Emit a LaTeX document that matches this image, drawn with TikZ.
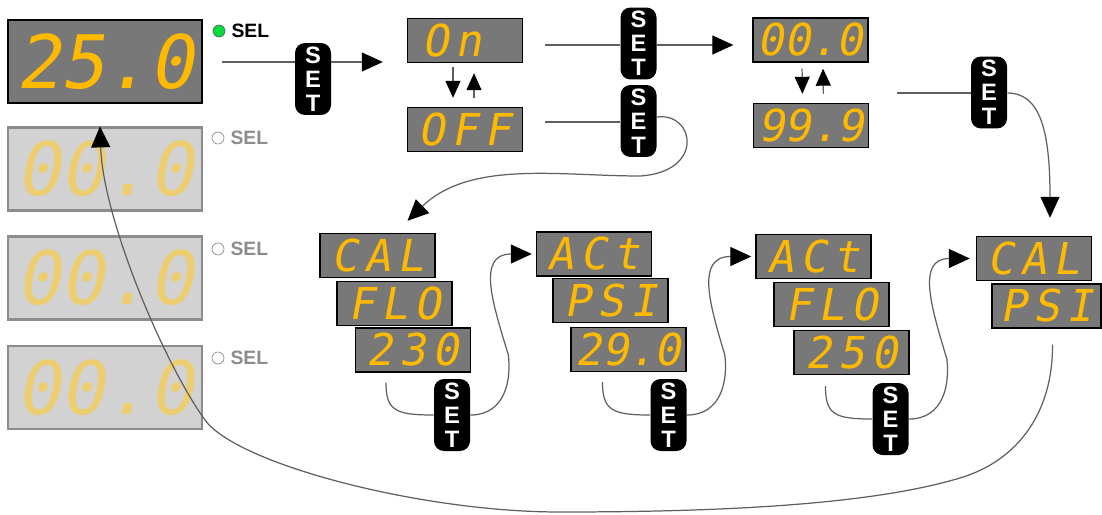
\documentclass[tikz,border=0pt]{standalone}
\usepackage{fontspec}
\usepackage{tikz}
\usetikzlibrary{arrows.meta}
\setsansfont{Liberation Sans}
\newfontfamily\segfont[FakeSlant=0.18,LetterSpace=15]{DejaVu Sans Mono}
\newfontfamily\numfont[FakeSlant=0.18]{DejaVu Sans Mono}
\definecolor{dispgray}{RGB}{120,120,120}
\definecolor{segorange}{RGB}{255,186,0}
\definecolor{offgray}{RGB}{210,210,210}
\definecolor{offedge}{RGB}{140,140,140}
\definecolor{offseg}{RGB}{236,206,112}
\definecolor{selgreen}{RGB}{0,220,60}
\definecolor{wiregray}{RGB}{95,95,95}

\begin{document}
\begin{tikzpicture}[x=0.02cm,y=-0.02cm,
  disp/.style={draw=black,line width=0.8pt,fill=dispgray,minimum width=2.3cm,minimum height=0.88cm,inner sep=0pt,text=segorange,font=\segfont\fontsize{25}{25}\selectfont},
  dispnum/.style={disp,font=\numfont\fontsize{25}{25}\selectfont},
  bigdisp/.style={draw=black,line width=1.6pt,fill=dispgray,minimum width=3.88cm,minimum height=1.66cm,inner sep=0pt,text=segorange,font=\numfont\fontsize{42}{42}\selectfont},
  offdisp/.style={bigdisp,draw=offedge,line width=1.2pt,fill=offgray,text=offseg},
  setbtn/.style={fill=black,rounded corners=0.2cm,minimum width=0.72cm,minimum height=1.44cm,inner sep=0pt,text=white,align=center,font=\sffamily\bfseries\fontsize{13.5}{13.6}\selectfont},
  seldot/.style={circle,draw=#1,inner sep=0pt,minimum size=0.24cm},
  sellbl/.style={font=\sffamily\bfseries\fontsize{11}{11}\selectfont},
  wire/.style={draw=wiregray,line width=0.7pt},
  arr/.style={-{Triangle[length=0.42cm,width=0.38cm,color=black]}},
  flip/.style={-{Triangle[length=0.34cm,width=0.3cm,color=black]}}]
\useasboundingbox (0,0) rectangle (1102,514);

\node[bigdisp] (d25) at (105,61.5) {25.0};
\node[offdisp] (g1) at (105,169) {00.0};
\node[offdisp] (g2) at (105,278) {00.0};
\node[offdisp] (g3) at (105,387.5) {00.0};
\node[seldot=black!60,fill=selgreen,label={[sellbl]right:SEL}] (dot1) at (219,31) {};
\node[seldot=offedge,label={[sellbl,text=offedge]right:SEL}] (dot2) at (218,138) {};
\node[seldot=offedge,label={[sellbl,text=offedge]right:SEL}] (dot3) at (218,249) {};
\node[seldot=offedge,label={[sellbl,text=offedge]right:SEL}] (dot4) at (218,358) {};

\node[disp] (on) at (465,40.5) {On\phantom{0}};
\node[disp] (off) at (465,129.5) {OFF};
\node[dispnum] (d00) at (810.5,40) {00.0};
\node[dispnum] (d99) at (811,125.5) {99.9};
\node[setbtn] (btnA) at (313,79) {S\\E\\T};
\node[setbtn] (btnB) at (638.5,43.5) {S\\E\\T};
\node[setbtn] (btnC) at (638.5,121) {S\\E\\T};
\node[setbtn] (btnD) at (989,92.5) {S\\E\\T};

\node[disp] (cal1) at (377.5,255.5) {CAL};
\node[disp] (flo1) at (394.5,303.5) {FLO};
\node[disp] (v230) at (413,350) {230};
\node[disp] (act1) at (594,254) {ACt};
\node[disp] (psi1) at (610.5,300.5) {PSI};
\node[dispnum] (v290) at (628.5,349.5) {29.0};
\node[disp] (act2) at (813.5,256.5) {ACt};
\node[disp] (flo2) at (831.5,304.5) {FLO};
\node[disp] (v250) at (851.5,352.5) {250};
\node[disp] (cal2) at (1034,258.5) {CAL};
\node[disp,minimum width=2.18cm] (psi2) at (1046.5,306) {PSI};
\node[setbtn] (btnE) at (452,415) {S\\E\\T};
\node[setbtn] (btnF) at (668.5,415) {S\\E\\T};
\node[setbtn] (btnG) at (890.5,419) {S\\E\\T};

\coordinate (s1) at (222,62);
\coordinate (s2) at (545,45);
\coordinate (s3) at (545,122);
\coordinate (s4) at (897,93);
\draw[wire] (s1) -- (s1 -| btnA.west);
\draw[wire,arr,shorten >=0.48cm] (s1 -| btnA.east) -- (s1 -| on.west);
\draw[wire] (s2) -- (s2 -| btnB.west);
\draw[wire,arr,shorten >=0.38cm] (s2 -| btnB.east) -- (s2 -| d00.west);
\draw[wire] (s3) -- (s3 -| btnC.west);
\draw[wire,arr] ([yshift=0.08cm]btnC.east) .. controls (695,112) and (705,172) .. (640,176) .. controls (560,176) and (470,160) .. ([shift={(30,-12)}]cal1.north);
\draw[wire] (s4) -- (s4 -| btnD.west);
\draw[wire,arr] (s4 -| btnD.east) .. controls (1040,93) and (1050,130) .. ([shift={(16,-18)}]cal2.north);

\draw[wire,flip,shorten <=0.08cm,shorten >=0.18cm] ([xshift=-0.24cm]on.south) -- ([xshift=-0.24cm]off.north);
\draw[wire,flip,shorten <=0.18cm,shorten >=0.2cm] ([xshift=0.18cm]off.north) -- ([xshift=0.18cm]on.south);
\draw[wire,flip,shorten <=0.12cm,shorten >=0.18cm] ([xshift=-0.17cm]d00.south) -- ([xshift=-0.17cm]d99.north);
\draw[wire,flip,shorten <=0.18cm,shorten >=0.12cm] ([xshift=0.25cm]d99.north) -- ([xshift=0.25cm]d00.south);

\draw[wire] ([shift={(-27,10)}]v230.south) .. controls +(0,28) and +(-38,0) .. (btnE.west);
\draw[wire] ([shift={(-26,10)}]v290.south) .. controls +(0,28) and +(-38,0) .. (btnF.west);
\draw[wire] ([shift={(-26,11)}]v250.south) .. controls +(0,28) and +(-38,0) .. (btnG.west);
\draw[wire,arr,shorten >=0.08cm] (btnE.east) .. controls +(35,0) and +(3,25) .. ++(38,-60) .. controls +(-15,-50) and +(-60,0) .. (act1.west);
\draw[wire,arr,shorten >=0.08cm] (btnF.east) .. controls +(35,0) and +(3,25) .. ++(38,-60) .. controls +(-15,-50) and +(-60,0) .. (act2.west);
\draw[wire,arr,shorten >=0.12cm] (btnG.east) .. controls +(35,0) and +(3,25) .. ++(38,-60) .. controls +(-15,-50) and +(-60,0) .. (cal2.west);

\draw[wire,arr] ([shift={(6,16)}]psi2.south) .. controls (1053,410) and (1020,460) .. (960,478) .. controls (870,505) and (720,512) .. (560,512) .. controls (420,512) and (237,464) .. (205,420) .. controls (165,365) and (103,220) .. ([shift={(-5,22)}]d25.south);
\end{tikzpicture}
\end{document}
